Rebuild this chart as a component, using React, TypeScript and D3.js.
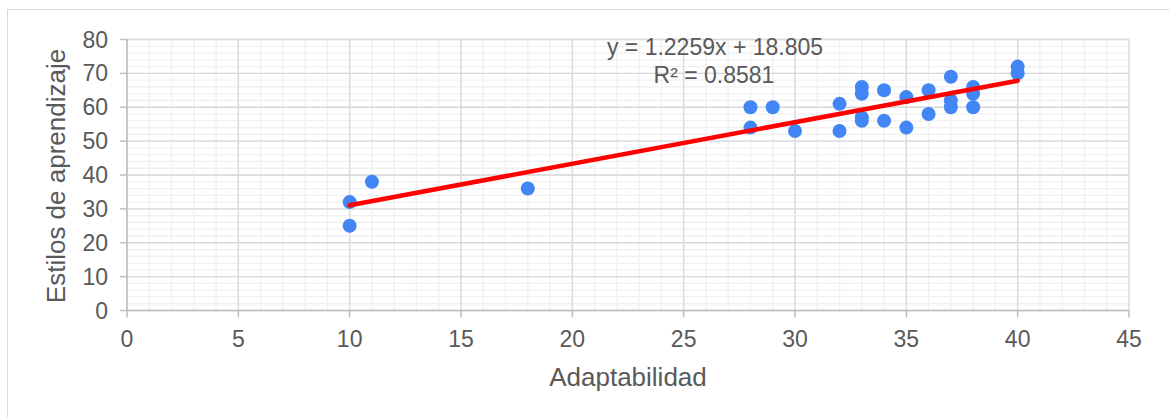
import React from "react";
import * as d3 from "d3";

const adaptabilidad = [10, 10, 11, 18, 28, 28, 29, 30, 32, 32, 33, 33, 33, 33, 34, 34, 35, 35, 36, 36, 37, 37, 37, 38, 38, 38, 40, 40];
const estilos = [32, 25, 38, 36, 60, 54, 60, 53, 61, 53, 66, 64, 57, 56, 65, 56, 63, 54, 65, 58, 69, 62, 60, 66, 64, 60, 72, 70];
const xTicks = [0, 5, 10, 15, 20, 25, 30, 35, 40, 45];
const yTicks = [0, 10, 20, 30, 40, 50, 60, 70, 80];
const slope = 1.2259;
const intercept = 18.805;
const equationText = "y = 1.2259x + 18.805";
const r2Text = "R² = 0.8581";
const xTitle = "Adaptabilidad";
const yTitle = "Estilos de aprendizaje";

export default function App() {
  const W = 1169, H = 417;
  const x = d3.scaleLinear().domain([0, 45]).range([127, 1129]);
  const y = d3.scaleLinear().domain([0, 80]).range([310.5, 39.5]);
  const font = "'Liberation Sans', Arial, sans-serif";
  const txt = "#595959";

  const xMinor = d3.range(0, 46, 1);
  const yMinor = d3.range(0, 81, 2);
  const xMin = d3.min(adaptabilidad) as number;
  const xMax = d3.max(adaptabilidad) as number;
  const trend = d3.line<number>().x((d) => x(d)).y((d) => y(slope * d + intercept));

  return (
    <svg width={W} height={H} style={{ position: "absolute", left: 0, top: 0, background: "#fff" }}>
      <rect x={7.5} y={9.5} width={1300} height={600} fill="#fff" stroke="#d9d9d9" strokeWidth={1} />
      {xMinor.map((v) => (
        <line key={"xm" + v} x1={x(v)} x2={x(v)} y1={y(80)} y2={y(0)} stroke="#f0f0f0" strokeWidth={1.3} />
      ))}
      {yMinor.map((v) => (
        <line key={"ym" + v} x1={x(0)} x2={x(45)} y1={y(v)} y2={y(v)} stroke="#f0f0f0" strokeWidth={1.3} />
      ))}
      {xTicks.map((v) => (
        <line key={"xM" + v} x1={x(v)} x2={x(v)} y1={y(80)} y2={y(0)} stroke="#d9d9d9" strokeWidth={1.3} />
      ))}
      {yTicks.map((v) => (
        <line key={"yM" + v} x1={x(0)} x2={x(45)} y1={y(v)} y2={y(v)} stroke="#d9d9d9" strokeWidth={1.3} />
      ))}
      <line x1={x(0)} x2={x(0)} y1={y(80)} y2={y(0)} stroke="#bfbfbf" strokeWidth={1.5} />
      <line x1={x(0)} x2={x(45)} y1={y(0)} y2={y(0)} stroke="#bfbfbf" strokeWidth={1.5} />
      {yTicks.map((v) => (
        <line key={"yt" + v} x1={x(0) - 7} x2={x(0)} y1={y(v)} y2={y(v)} stroke="#bfbfbf" strokeWidth={1.5} />
      ))}
      {xTicks.map((v) => (
        <line key={"xt" + v} x1={x(v)} x2={x(v)} y1={y(0)} y2={y(0) + 7} stroke="#bfbfbf" strokeWidth={1.5} />
      ))}
      {yTicks.map((v) => (
        <text key={"yl" + v} x={108} y={y(v)} dy="0.35em" textAnchor="end" fontFamily={font} fontSize={23} fill={txt}>
          {v}
        </text>
      ))}
      {xTicks.map((v) => (
        <text key={"xl" + v} x={x(v)} y={347} textAnchor="middle" fontFamily={font} fontSize={23} fill={txt}>
          {v}
        </text>
      ))}
      <text x={628} y={386} textAnchor="middle" fontFamily={font} fontSize={26} fill={txt}>
        {xTitle}
      </text>
      <text transform={`translate(65,176) rotate(-90)`} textAnchor="middle" fontFamily={font} fontSize={26} fill={txt}>
        {yTitle}
      </text>
      {adaptabilidad.map((v, i) => (
        <circle key={"p" + i} cx={x(v)} cy={y(estilos[i])} r={7} fill="#4285f4" />
      ))}
      <path d={trend([xMin, xMax]) || ""} fill="none" stroke="#ff0000" strokeWidth={4.5} strokeLinecap="round" />
      <text x={715} y={55} textAnchor="middle" fontFamily={font} fontSize={23} fill={txt}>
        {equationText}
      </text>
      <text x={714} y={83} textAnchor="middle" fontFamily={font} fontSize={23} fill={txt}>
        {r2Text}
      </text>
    </svg>
  );
}
